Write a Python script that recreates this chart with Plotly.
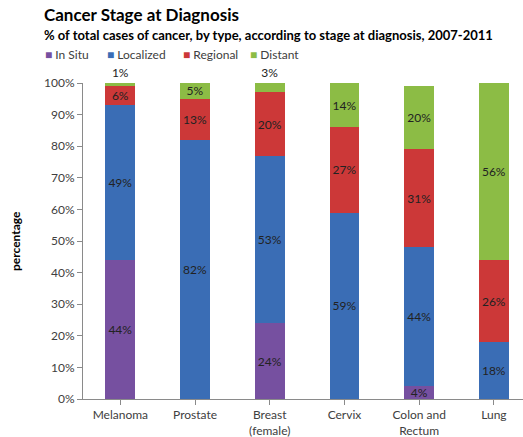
import plotly.graph_objects as go

categories = ["Melanoma", "Prostate", "Breast<br>(female)", "Cervix", "Colon and<br>Rectum", "Lung"]
in_situ = [44, 0, 24, 0, 4, 0]
localized = [49, 82, 53, 59, 44, 18]
regional = [6, 13, 20, 27, 31, 26]
distant = [1, 5, 3, 14, 20, 56]
series_names = ["In Situ", "Localized", "Regional", "Distant"]
y_ticks = [0, 10, 20, 30, 40, 50, 60, 70, 80, 90, 100]

colors = ["#7650a0", "#3a6db5", "#cc3838", "#8cbc45"]
FONT = "Lato"
W, H = 523, 437
L, T, PW, PH = 83, 83, 440, 316


def px_x(p):  # screen pixel -> paper x
    return (p - L) / PW


def px_y(p):  # screen pixel -> paper y
    return (T + PH - p) / PH


fig = go.Figure()
for name, vals, col in zip(series_names, [in_situ, localized, regional, distant], colors):
    texts = [f"{v}%" if v > 0 else "" for v in vals]
    if name == "Distant":
        positions = ["outside" if v < 4 else "inside" for v in vals]
    else:
        positions = ["inside"] * len(vals)
    fig.add_trace(go.Bar(
        name=name, x=list(range(len(categories))), y=vals, text=texts,
        textposition=positions, insidetextanchor="middle", constraintext="none",
        textangle=0,
        textfont=dict(family=FONT, size=12, color="#222222"),
        marker=dict(color=col, line=dict(width=0)),
        cliponaxis=False, showlegend=False,
    ))

legend_x = [45, 107, 183, 250]
annotations = [
    dict(text="<b>Cancer Stage at Diagnosis</b>", xref="paper", yref="paper",
         x=px_x(42), y=px_y(15), xanchor="left", yanchor="middle", showarrow=False,
         font=dict(family=FONT, size=17, color="#000000")),
    dict(text="<b>% of total cases of cancer, by type, according to stage at diagnosis, 2007-2011</b>",
         xref="paper", yref="paper", x=px_x(42), y=px_y(35), xanchor="left",
         yanchor="middle", showarrow=False,
         font=dict(family=FONT, size=13, color="#000000")),
    dict(text="<b>percentage</b>", xref="paper", yref="paper", x=px_x(15), y=0.5,
         xanchor="center", yanchor="middle", textangle=-90, showarrow=False,
         font=dict(family=FONT, size=12, color="#000000")),
]
for name, col, lx in zip(series_names, colors, legend_x):
    annotations.append(dict(
        text=f'<span style="color:{col}">■</span> {name}', xref="paper", yref="paper",
        x=px_x(lx - 2), y=px_y(55), xanchor="left", yanchor="middle", showarrow=False,
        font=dict(family=FONT, size=12, color="#404040")))

fig.update_layout(
    width=W, height=H,
    margin=dict(l=L, r=W - L - PW, t=T, b=H - T - PH),
    barmode="stack", bargap=0.6,
    plot_bgcolor="white", paper_bgcolor="white",
    font=dict(family=FONT, size=12, color="#404040"),
    showlegend=False,
    xaxis=dict(tickmode="array", tickvals=list(range(len(categories))), ticktext=categories,
               range=[-0.5, 5.39], showline=True, linecolor="#8a8a8a", linewidth=1,
               ticks="outside", tickson="boundaries", ticklen=5, tickcolor="#8a8a8a",
               showgrid=False, automargin=False,
               tickfont=dict(family=FONT, size=12, color="#404040")),
    yaxis=dict(range=[0, 100], tickvals=y_ticks, ticktext=[f"{v}%" for v in y_ticks],
               showline=True, linecolor="#8a8a8a", linewidth=1, ticks="outside",
               ticklen=5, tickcolor="#8a8a8a", showgrid=False, zeroline=False,
               automargin=False,
               tickfont=dict(family=FONT, size=12, color="#404040")),
    annotations=annotations,
)

fig.write_html("out.html", config={"displayModeBar": False},
               post_script="document.body.style.margin='0';document.body.style.overflow='hidden';")
